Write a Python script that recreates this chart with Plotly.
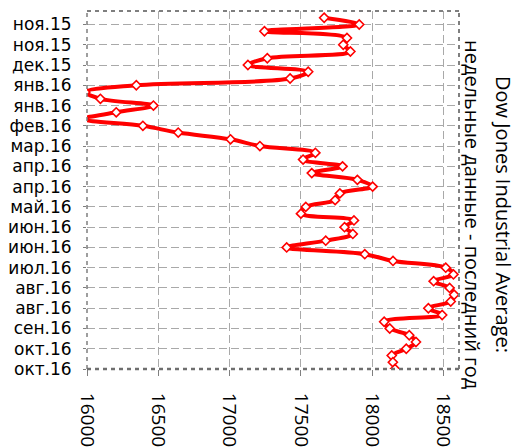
import plotly.graph_objects as go

# ---- data ----
dates = [
    "2015-10-30", "2015-11-06", "2015-11-13", "2015-11-20", "2015-11-27",
    "2015-12-04", "2015-12-11", "2015-12-18", "2015-12-25", "2016-01-01",
    "2016-01-08", "2016-01-15", "2016-01-22", "2016-01-29", "2016-02-05",
    "2016-02-12", "2016-02-19", "2016-02-26", "2016-03-04", "2016-03-11",
    "2016-03-18", "2016-03-25", "2016-04-01", "2016-04-08", "2016-04-15",
    "2016-04-22", "2016-04-29", "2016-05-06", "2016-05-13", "2016-05-20",
    "2016-05-27", "2016-06-03", "2016-06-10", "2016-06-17", "2016-06-24",
    "2016-07-01", "2016-07-08", "2016-07-15", "2016-07-22", "2016-07-29",
    "2016-08-05", "2016-08-12", "2016-08-19", "2016-08-26", "2016-09-02",
    "2016-09-09", "2016-09-16", "2016-09-23", "2016-09-30", "2016-10-07",
    "2016-10-14", "2016-10-21", "2016-10-28",
]
dji = [
    17664, 17910, 17245, 17824, 17798,
    17848, 17265, 17129, 17552, 17425,
    16346, 15988, 16094, 16466, 16205,
    15974, 16392, 16640, 17007, 17213,
    17602, 17516, 17793, 17577, 17897,
    18004, 17774, 17741, 17535, 17501,
    17873, 17807, 17865, 17675, 17401,
    17949, 18147, 18517, 18571, 18432,
    18544, 18576, 18552, 18395, 18492,
    18085, 18124, 18261, 18308, 18240,
    18138, 18146, 18161,
]
tick_dates = [
    "2015-11-06", "2015-11-27", "2015-12-18", "2016-01-08", "2016-01-29",
    "2016-02-19", "2016-03-11", "2016-04-01", "2016-04-22", "2016-05-13",
    "2016-06-03", "2016-06-24", "2016-07-15", "2016-08-05", "2016-08-26",
    "2016-09-16", "2016-10-07", "2016-10-28",
]
tick_labels = [
    "ноя.15", "ноя.15", "дек.15", "янв.16", "янв.16",
    "фев.16", "мар.16", "апр.16", "апр.16", "май.16",
    "июн.16", "июн.16", "июл.16", "авг.16", "авг.16",
    "сен.16", "окт.16", "окт.16",
]
x_ticks = [16000, 16500, 17000, 17500, 18000, 18500]
title1 = "Dow Jones Industrial Average:"
title2 = "недельные данные - последний год"

# ---- layout geometry ----
W, H = 520, 447
ML, MR, MT, MB = 87, 61, 11, 78
PW, PH = W - ML - MR, H - MT - MB


def px_x(p):
    return (p - ML) / PW


def px_y(p):
    return (H - MB - p) / PH


FONT = "Open Sans"
GRID = "#a9a9a9"
BORDER = "#7f7f7f"

fig = go.Figure()
fig.add_trace(go.Scatter(
    x=dji, y=dates, mode="lines+markers",
    line=dict(color="#ff0000", width=4, shape="spline", smoothing=1),
    marker=dict(symbol="diamond", size=7, color="white",
                line=dict(color="#ff0000", width=1.6)),
    showlegend=False, hoverinfo="skip",
))

fig.update_layout(
    width=W, height=H,
    margin=dict(l=ML, r=MR, t=MT, b=MB, pad=0, autoexpand=False),
    paper_bgcolor="white", plot_bgcolor="white",
    font=dict(family=FONT, color="#000000"),
    xaxis=dict(
        range=[16000, 18610], tickvals=x_ticks,
        ticktext=[str(v) for v in x_ticks],
        tickangle=90, tickfont=dict(size=19, family=FONT, color="#000"),
        showgrid=True, gridcolor=GRID, gridwidth=1, griddash="8px,4px",
        zeroline=False, showline=False, automargin=False,
        ticks="outside", ticklen=6, tickcolor=BORDER, tickwidth=1,
        ticklabelstandoff=13,
    ),
    yaxis=dict(
        type="date", range=["2016-10-28", "2015-10-23"],
        tickvals=tick_dates, ticktext=tick_labels,
        tickfont=dict(size=17, family="DejaVu Sans", color="#000"),
        showgrid=True, gridcolor=GRID, gridwidth=1, griddash="8px,4px",
        zeroline=False, showline=False, automargin=False,
        ticks="outside", ticklen=3, tickcolor=BORDER, tickwidth=1,
        ticklabelstandoff=8,
    ),
    shapes=[
        dict(type="line", xref="paper", yref="paper", x0=0, x1=1, y0=1, y1=1,
             line=dict(color=BORDER, width=2, dash="4px,4px")),
        dict(type="line", xref="paper", yref="paper", x0=1, x1=1, y0=0, y1=1,
             line=dict(color=BORDER, width=2, dash="4px,4px")),
        dict(type="line", xref="paper", yref="paper", x0=0, x1=0, y0=0, y1=1,
             line=dict(color=BORDER, width=1.5, dash="4px,4px")),
        dict(type="line", xref="paper", yref="paper", x0=0, x1=1, y0=0, y1=0,
             line=dict(color="#6f6f6f", width=2.5, dash="4px,4px")),
    ],
    annotations=[
        dict(text=title1, xref="paper", yref="paper", x=px_x(503), y=px_y(215),
             xanchor="center", yanchor="middle", textangle=90, showarrow=False,
             font=dict(size=20, family=FONT, color="#000")),
        dict(text=title2, xref="paper", yref="paper", x=px_x(472), y=px_y(215),
             xanchor="center", yanchor="middle", textangle=90, showarrow=False,
             font=dict(size=20, family=FONT, color="#000")),
    ],
)

fig.write_html("out.html")
